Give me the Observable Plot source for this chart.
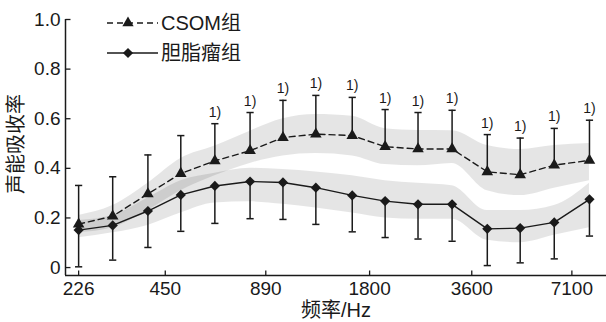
<!DOCTYPE html>
<html><head><meta charset="utf-8">
<script src="https://cdn.jsdelivr.net/npm/d3@7"></script>
<script src="https://cdn.jsdelivr.net/npm/@observablehq/plot@0.6"></script>
<style>
body{margin:0;background:#fff;}
#chart{position:relative;width:606px;height:322px;}
</style></head><body><div id="chart"></div>
<script>
// 1/3-octave measurement frequencies (Hz)
const freqs = [250,315,400,500,630,800,1000,1250,1600,2000,2500,3150,4000,5000,6300,8000];
// CSOM group
const csomMean  = [0.175,0.207,0.297,0.379,0.430,0.471,0.524,0.538,0.532,0.487,0.478,0.478,0.386,0.374,0.413,0.432];
const csomUpper = [0.331,0.366,0.454,0.532,0.580,0.625,0.674,0.694,0.686,0.637,0.625,0.634,0.536,0.522,0.561,0.594];
const csomBandLo = [0.140,0.160,0.230,0.310,0.370,0.420,0.450,0.460,0.450,0.415,0.410,0.420,0.310,0.290,0.320,0.350];
const csomBandHi = [0.210,0.250,0.340,0.440,0.490,0.550,0.600,0.617,0.610,0.560,0.553,0.552,0.492,0.476,0.492,0.500];
// Cholesteatoma group
const cholMean  = [0.151,0.170,0.228,0.293,0.329,0.347,0.343,0.322,0.291,0.268,0.255,0.255,0.156,0.159,0.182,0.275];
const cholLower = [0.003,0.030,0.081,0.146,0.178,0.197,0.194,0.174,0.144,0.121,0.115,0.106,0.008,0.019,0.035,0.127];
const cholBandLo = [0.120,0.140,0.170,0.220,0.260,0.265,0.255,0.240,0.220,0.200,0.195,0.195,0.110,0.100,0.130,0.160];
const cholBandHi = [0.190,0.210,0.280,0.350,0.380,0.400,0.395,0.385,0.370,0.350,0.340,0.330,0.230,0.230,0.250,0.340];
// significance marks
const sigLabels = ["","","","","1)","1)","1)","1)","1)","1)","1)","1)","1)","1)","1)","1)"];
// axes
const xTickValues = [250,450,890,1800,3600,7100];
const xTickLabels = ["226","450","890","1800","3600","7100"];
const yTickValues = [0,0.2,0.4,0.6,0.8,1.0];
const yTickLabels = ["0","0.2","0.4","0.6","0.8","1.0"];
const seriesNames = ["CSOM组","胆脂瘤组"];
const xTitle = "频率/Hz";
const yTitle = "声能吸收率";

const rows = freqs.map((f,i)=>({f, cm:csomMean[i], cu:csomUpper[i], cbl:csomBandLo[i], cbh:csomBandHi[i],
  hm:cholMean[i], hl:cholLower[i], hbl:cholBandLo[i], hbh:cholBandHi[i], sig:sigLabels[i]}));
const xTicks = xTickValues.map((v,i)=>({v, label:xTickLabels[i]}));
const yTicks = yTickValues.map((v,i)=>({v, label:yTickLabels[i]}));

const ink = "#1a1a1a";
const FONT = '"Liberation Sans","Noto Sans CJK SC",Arial,sans-serif';
const xDomain = [228.7, 8980];
const yDomain = [-0.032, 1.0];

const capSym = {draw(ctx, size){const r=Math.sqrt(size/Math.PI); ctx.moveTo(-r,0); ctx.lineTo(r,0);}};
const tickRight = {draw(ctx, size){const r=Math.sqrt(size/Math.PI); ctx.moveTo(0,0); ctx.lineTo(r,0);}};
const tickUp = {draw(ctx, size){const r=Math.sqrt(size/Math.PI); ctx.moveTo(0,0); ctx.lineTo(0,-r);}};

const plot = Plot.plot({
  width: 606, height: 322,
  marginLeft: 65, marginRight: 0, marginTop: 19, marginBottom: 47,
  style: {fontFamily: FONT, fontSize: "19px", color: ink, background: "#fff"},
  x: {type: "log", domain: xDomain, axis: null},
  y: {domain: yDomain, axis: null},
  marks: [
    Plot.areaY(rows, {x:"f", y1:"cbl", y2:"cbh", fill:"#000", fillOpacity:0.1, curve:"monotone-x"}),
    Plot.areaY(rows, {x:"f", y1:"hbl", y2:"hbh", fill:"#000", fillOpacity:0.1, curve:"monotone-x"}),
    Plot.ruleX(rows, {x:"f", y1:"cm", y2:"cu", stroke:ink, strokeWidth:1.5}),
    Plot.dot(rows, {x:"f", y:"cu", symbol:capSym, r:3.6, stroke:ink, fill:"none", strokeWidth:1.5}),
    Plot.ruleX(rows, {x:"f", y1:"hm", y2:"hl", stroke:ink, strokeWidth:1.5}),
    Plot.dot(rows, {x:"f", y:"hl", symbol:capSym, r:3.6, stroke:ink, fill:"none", strokeWidth:1.5}),
    Plot.lineY(rows, {x:"f", y:"cm", stroke:ink, strokeWidth:1.4, strokeDasharray:"6,4"}),
    Plot.lineY(rows, {x:"f", y:"hm", stroke:ink, strokeWidth:1.4}),
    Plot.dot(rows, {x:"f", y:"cm", symbol:"triangle", r:4.3, fill:ink, stroke:"none"}),
    Plot.dot(rows, {x:"f", y:"hm", symbol:"diamond2", r:4.6, fill:ink, stroke:"none"}),
    Plot.text(rows.filter(d=>d.sig), {x:"f", y:"cu", text:"sig", dy:-7, lineAnchor:"bottom", fontSize:14, fill:ink}),
    Plot.ruleX([xDomain[0]], {stroke:ink, strokeWidth:1.5}),
    Plot.ruleY([yDomain[0]], {stroke:ink, strokeWidth:1.5}),
    Plot.dot(yTicks, {y:"v", frameAnchor:"left", symbol:tickRight, r:5, stroke:ink, fill:"none", strokeWidth:1.3}),
    Plot.dot(xTicks, {x:"v", frameAnchor:"bottom", symbol:tickUp, r:5, stroke:ink, fill:"none", strokeWidth:1.3}),
    Plot.text(xTicks, {x:"v", text:"label", frameAnchor:"bottom", lineAnchor:"top", dy:6, fontSize:19, fill:ink}),
    Plot.text(yTicks, {y:"v", text:"label", frameAnchor:"left", textAnchor:"end", dx:-5, fontSize:19, fill:ink})
  ]
});

const svg = d3.select(plot);
const g = svg.append("g").attr("font-family", FONT).attr("fill", ink).attr("text-anchor","start");
// legend
const leg = [{name:seriesNames[0], y:23, dash:"6,4", sym:d3.symbolTriangle, size:55},
             {name:seriesNames[1], y:53, dash:null, sym:d3.symbolDiamond2, size:66}];
leg.forEach(L=>{
  g.append("line").attr("x1",107).attr("x2",158).attr("y1",L.y).attr("y2",L.y)
    .attr("stroke",ink).attr("stroke-width",1.4).attr("stroke-dasharray",L.dash);
  g.append("path").attr("d", d3.symbol(L.sym, L.size)()).attr("transform",`translate(128,${L.y})`).attr("fill",ink);
  g.append("text").attr("x",161).attr("y",L.y).attr("dy","0.35em").attr("font-size",20).text(L.name);
});
g.append("text").attr("transform","translate(16,144) rotate(-90)").attr("text-anchor","middle")
  .attr("dy","0.35em").attr("font-size",20).text(yTitle);
g.append("text").attr("x",336).attr("y",310).attr("text-anchor","middle")
  .attr("dy","0.35em").attr("font-size",20).text(xTitle);

document.getElementById("chart").appendChild(plot);
</script>
</body></html>
